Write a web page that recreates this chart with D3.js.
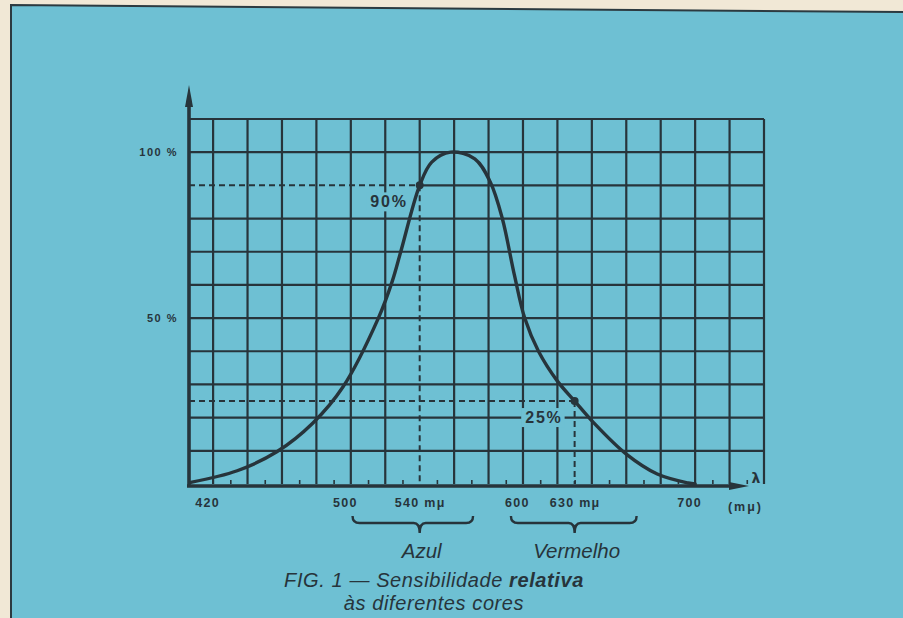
<!DOCTYPE html>
<html lang="pt">
<head>
    <meta charset="UTF-8">
    <title>Sensibilidade relativa às diferentes cores</title>
    <script src="https://d3js.org/d3.v7.min.js"></script>
    <style>
        body {
            margin: 0;
            background: #f1e8d6;
        }
        svg {
            display: block;
        }
    </style>
</head>
<body>
    <div id="chart"></div>

    <script>
        // Curve: wavelength (mμ) and relative sensitivity (%)
        const wavelengths = [407, 434, 457, 478, 495.5, 516, 524, 529, 540, 547, 558, 572, 581, 588, 595, 601, 609, 620, 630, 641, 660, 678, 696, 700];
        const sensitivity = [0.5, 4, 9.7, 18.4, 29.3, 50, 61, 70, 90, 97, 100, 98, 91, 80, 63, 50, 40, 31, 25, 18.5, 9, 3, 0.3, 0];

        // Grid paper lines
        const xGrid = [420, 440, 460, 480, 500, 520, 540, 560, 580, 600, 620, 640, 660, 680, 700, 720, 740];
        const yGrid = [10, 20, 30, 40, 50, 60, 70, 80, 90, 100, 110];
        const minorTicks = [430, 450, 470, 490, 510, 530, 550, 570, 590, 610, 630, 650, 670, 690, 710, 730];

        // Axis labels
        const xLabelValues = [420, 500, 540, 600, 630, 700];
        const xLabels = ["420", "500", "540 mμ", "600", "630 mμ", "700"];
        const yLabelValues = [100, 50];
        const yLabels = ["100 %", "50 %"];

        // Marked points with dashed guides
        const markerWavelengths = [540, 630];
        const markerValues = [90, 25];
        const markerLabels = ["90%", "25%"];

        // Colour bands under the axis
        const bandLabels = ["Azul", "Vermelho"];
        const bandCenters = [540, 630];
        const bandStarts = [501, 593];
        const bandEnds = [571, 666];

        const width = 903, height = 618;
        const ink = "#27343b";
        const paper = "#6ec0d3";

        const svg = d3.select("#chart")
            .append("svg")
            .attr("width", width)
            .attr("height", height);

        // blue card on cream page edge
        svg.append("path")
            .attr("d", "M11,5 L903,12 L903,618 L11,618 Z")
            .attr("fill", paper);
        svg.append("path")
            .attr("d", "M11,618 L11,5 L903,12")
            .attr("fill", "none")
            .attr("stroke", "#2c3a40")
            .attr("stroke-width", 2);

        const x = d3.scaleLinear().domain([406, 740]).range([189, 764]);
        const y = d3.scaleLinear().domain([0, 110]).range([484, 119]);
        const xMin = x.domain()[0], xMax = x.domain()[1];
        const yMax = y.domain()[1];

        // grid (the 90% row and 540 column turn into dashed guides near the point)
        svg.append("g")
            .selectAll("line")
            .data(yGrid)
            .join("line")
            .attr("x1", d => {
                const i = markerValues.indexOf(d);
                return i >= 0 && xGrid.includes(markerWavelengths[i]) ? x(markerWavelengths[i]) : x(xMin);
            })
            .attr("x2", x(xMax))
            .attr("y1", d => y(d))
            .attr("y2", d => y(d))
            .attr("stroke", ink)
            .attr("stroke-width", 2.2);

        svg.append("g")
            .selectAll("line")
            .data(xGrid)
            .join("line")
            .attr("x1", d => x(d))
            .attr("x2", d => x(d))
            .attr("y1", y(yMax))
            .attr("y2", d => {
                const i = markerWavelengths.indexOf(d);
                return i >= 0 && yGrid.includes(markerValues[i]) ? y(markerValues[i]) : y(0);
            })
            .attr("stroke", ink)
            .attr("stroke-width", 2.2);

        // minor ticks on the wavelength axis
        const minorAxis = svg.append("g")
            .attr("transform", `translate(0,${y(0)})`)
            .call(d3.axisBottom(x).tickValues(minorTicks).tickSize(-4).tickFormat(""));
        minorAxis.select(".domain").remove();
        minorAxis.selectAll("line").attr("stroke", ink).attr("stroke-width", 1.6);

        // dashed guides
        markerWavelengths.forEach((wl, i) => {
            const guide = svg.append("g")
                .attr("stroke", ink)
                .attr("stroke-width", 2)
                .attr("stroke-dasharray", "6,4");
            guide.append("line")
                .attr("x1", x(xMin)).attr("x2", x(wl))
                .attr("y1", y(markerValues[i])).attr("y2", y(markerValues[i]));
            guide.append("line")
                .attr("x1", x(wl)).attr("x2", x(wl))
                .attr("y1", y(markerValues[i])).attr("y2", y(0));
        });

        // axes with arrows
        svg.append("line")
            .attr("x1", x(xMin)).attr("x2", x(xMin))
            .attr("y1", y(0) + 2).attr("y2", 100)
            .attr("stroke", ink).attr("stroke-width", 3.6);
        svg.append("path")
            .attr("d", `M${x(xMin)},85 L${x(xMin) + 4},107 L${x(xMin) - 4},107 Z`)
            .attr("fill", ink);

        svg.append("line")
            .attr("x1", x(xMin) - 2).attr("x2", 735)
            .attr("y1", y(0) + 2).attr("y2", y(0) + 2)
            .attr("stroke", ink).attr("stroke-width", 3.6);
        svg.append("path")
            .attr("d", `M749,${y(0) + 2} L729,${y(0) - 2} L729,${y(0) + 6} Z`)
            .attr("fill", ink);

        svg.append("text")
            .attr("x", 756).attr("y", y(0) - 1)
            .attr("text-anchor", "middle")
            .style("font-family", "'DejaVu Sans', sans-serif")
            .style("font-weight", "bold")
            .style("font-size", "14px")
            .attr("fill", ink)
            .text("λ");

        // sensitivity curve
        const line = d3.line()
            .x(d => x(d[0]))
            .y(d => y(d[1]))
            .curve(d3.curveCatmullRom.alpha(0.5));

        svg.append("path")
            .datum(wavelengths.map((w, i) => [w, sensitivity[i]]))
            .attr("d", line)
            .attr("fill", "none")
            .attr("stroke", ink)
            .attr("stroke-width", 3.4)
            .attr("stroke-linecap", "round");

        svg.append("g")
            .selectAll("circle")
            .data(markerWavelengths)
            .join("circle")
            .attr("cx", d => x(d))
            .attr("cy", (d, i) => y(markerValues[i]))
            .attr("r", 4)
            .attr("fill", ink);

        // point labels, with a patch of paper behind them like the original
        markerLabels.forEach((label, i) => {
            const g = svg.append("g");
            const t = g.append("text")
                .attr("x", x(markerWavelengths[i]) - 12)
                .attr("y", y(markerValues[i]) + 22)
                .attr("text-anchor", "end")
                .style("font-family", "'Liberation Sans', Arial, sans-serif")
                .style("font-weight", "bold")
                .style("font-size", "16px")
                .style("letter-spacing", "1.8px")
                .attr("fill", ink)
                .text(label);
            const b = t.node().getBBox();
            g.insert("rect", "text")
                .attr("x", b.x - 4).attr("y", b.y - 1)
                .attr("width", b.width + 6).attr("height", b.height + 2)
                .attr("fill", paper);
        });

        // y labels
        svg.append("g")
            .selectAll("text")
            .data(yLabelValues)
            .join("text")
            .attr("x", 178)
            .attr("y", d => y(d) + 4)
            .attr("text-anchor", "end")
            .style("font-family", "'Liberation Sans', Arial, sans-serif")
            .style("font-weight", "bold")
            .style("font-size", "11px")
            .style("letter-spacing", "1.5px")
            .attr("fill", ink)
            .text((d, i) => yLabels[i]);

        // x labels
        const labelAxis = svg.append("g")
            .attr("transform", `translate(0,${y(0)})`)
            .call(d3.axisBottom(x).tickValues(xLabelValues).tickSize(0).tickPadding(14)
                .tickFormat((d, i) => xLabels[i]));
        labelAxis.select(".domain").remove();
        labelAxis.selectAll("text")
            .attr("dx", (d, i) => xLabels[i].includes("mμ") ? 0 : -6)
            .style("font-family", "'Liberation Sans', Arial, sans-serif")
            .style("font-weight", "bold")
            .style("font-size", "12.5px")
            .style("letter-spacing", "1.3px")
            .attr("fill", ink);

        svg.append("text")
            .attr("x", x(xMax) - 1).attr("y", 511)
            .attr("text-anchor", "end")
            .style("font-family", "'Liberation Sans', Arial, sans-serif")
            .style("font-weight", "bold")
            .style("font-size", "12.5px")
            .style("letter-spacing", "2px")
            .attr("fill", ink)
            .text("(mμ)");

        // braces under the axis
        const braceTop = 516;
        bandLabels.forEach((label, i) => {
            const x0 = x(bandStarts[i]), x1 = x(bandEnds[i]), xc = x(bandCenters[i]);
            const yb = braceTop + 7;
            const path = d3.path();
            path.moveTo(x0, braceTop);
            path.quadraticCurveTo(x0, yb, x0 + 7, yb);
            path.lineTo(xc - 6, yb);
            path.quadraticCurveTo(xc, yb, xc, braceTop + 17);
            path.quadraticCurveTo(xc, yb, xc + 6, yb);
            path.lineTo(x1 - 7, yb);
            path.quadraticCurveTo(x1, yb, x1, braceTop);
            svg.append("path")
                .attr("d", path.toString())
                .attr("fill", "none")
                .attr("stroke", ink)
                .attr("stroke-width", 2.4);

            svg.append("text")
                .attr("x", xc + 2).attr("y", 558)
                .attr("text-anchor", "middle")
                .style("font-family", "'Liberation Sans', Arial, sans-serif")
                .style("font-style", "italic")
                .style("font-size", "20.5px")
                .attr("fill", ink)
                .text(label);
        });

        // caption
        const caption = svg.append("text")
            .attr("text-anchor", "middle")
            .style("font-family", "'Liberation Sans', Arial, sans-serif")
            .style("font-style", "italic")
            .style("font-size", "20px")
            .style("letter-spacing", "0.6px")
            .attr("fill", ink);
        const line1 = caption.append("tspan").attr("x", 434).attr("y", 587);
        line1.append("tspan").text("FIG. 1 — Sensibilidade ");
        line1.append("tspan").style("font-weight", "bold").text("relativa");
        caption.append("tspan").attr("x", 434).attr("y", 610).text("às diferentes cores");
    </script>
</body>
</html>
